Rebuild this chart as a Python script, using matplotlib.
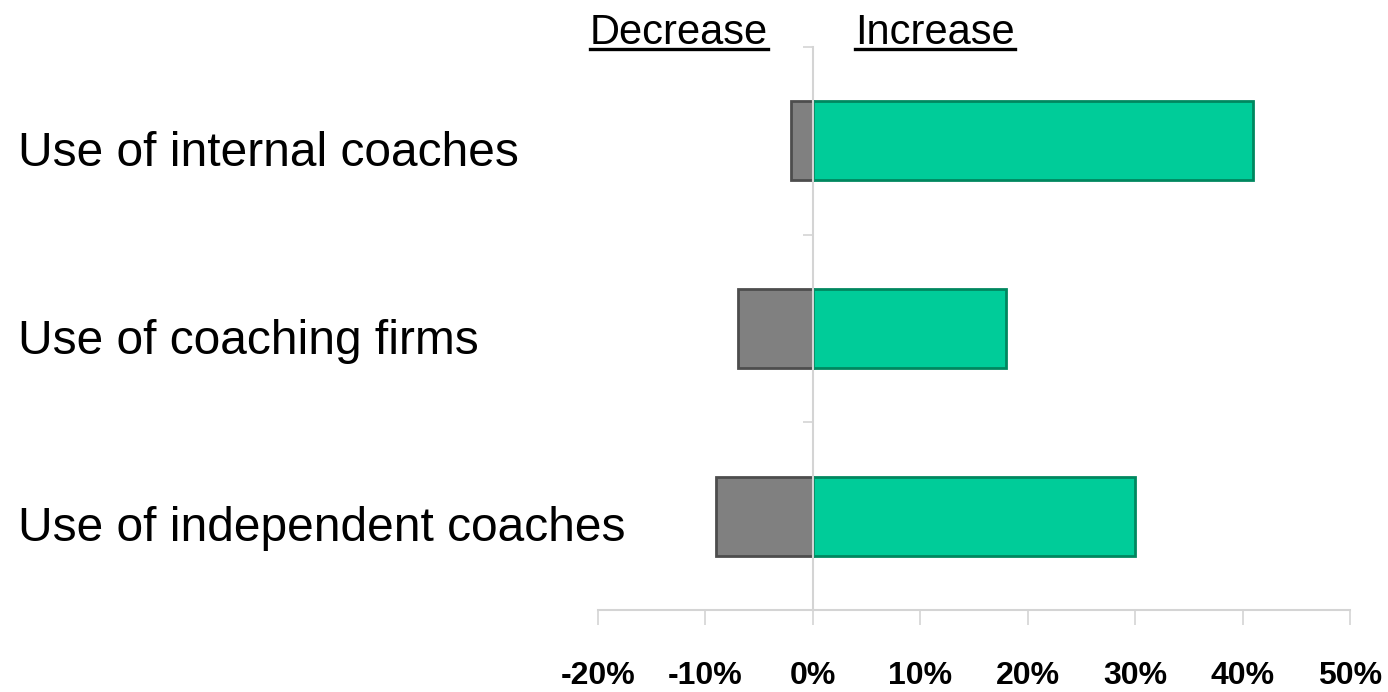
import numpy as np
import matplotlib
matplotlib.use('Agg')
import matplotlib.pyplot as plt
import matplotlib.transforms as mtransforms
from matplotlib.ticker import FuncFormatter

# Share of respondents expecting a decrease / increase
categories = ['Use of internal coaches', 'Use of coaching firms', 'Use of independent coaches']
decrease = [-2, -7, -9]
increase = [41, 18, 30]
xticks = [-20, -10, 0, 10, 20, 30, 40, 50]

green, green_edge = '#00CC99', '#00875F'
grey, grey_edge = '#808080', '#4D4D4D'
axis_grey = '#D4D4D4'
font = ['Liberation Sans', 'DejaVu Sans']

fig = plt.figure(figsize=(13.88, 6.92), dpi=100)
ax = fig.add_axes([0.4308, 0.1185, 0.5418, 0.8136])

y = np.arange(len(categories))
ax.barh(y, decrease, height=0.42, color=grey, edgecolor=grey_edge, linewidth=2, zorder=2)
ax.barh(y, increase, height=0.42, color=green, edgecolor=green_edge, linewidth=2, zorder=2)

ax.set_xlim(xticks[0], xticks[-1])
ax.set_ylim(len(categories) - 0.5, -0.5)

# Axes: light grey x-axis at bottom, vertical axis through zero
for side in ('top', 'right'):
    ax.spines[side].set_visible(False)
ax.spines['left'].set_position(('data', 0))
for side in ('left', 'bottom'):
    ax.spines[side].set_color(axis_grey)
    ax.spines[side].set_linewidth(1.5)
    ax.spines[side].set_zorder(3)

ax.set_xticks(xticks)
ax.xaxis.set_major_formatter(FuncFormatter(lambda v, pos: '%d%%' % v))
ax.tick_params(axis='x', direction='out', length=11, width=1.2, color=axis_grey, pad=26,
               labelsize=23)
for lab in ax.get_xticklabels():
    lab.set_family(font)
    lab.set_fontweight('bold')

ax.set_yticks(np.arange(len(categories) + 1) - 0.5)
ax.set_yticklabels([])
ax.tick_params(axis='y', direction='out', length=7, width=1.2, color=axis_grey)

# Category names, left aligned at the figure edge
trans = mtransforms.blended_transform_factory(fig.transFigure, ax.transData)
for yi, name in zip(y, categories):
    fig.text(0.013, yi + 0.135, name, transform=trans, ha='left', va='baseline',
             fontsize=34.5, family=font)

# Underlined headers above the two halves
head_y = 0.936
heads = [fig.text(0.425, head_y, 'Decrease', ha='left', va='baseline', fontsize=30, family=font),
         fig.text(0.616, head_y, 'Increase', ha='left', va='baseline', fontsize=30, family=font)]
fig.canvas.draw()
renderer = fig.canvas.get_renderer()
for t in heads:
    bb = t.get_window_extent(renderer).transformed(fig.transFigure.inverted())
    fig.add_artist(plt.Line2D([bb.x0, bb.x1], [head_y - 0.007] * 2, color='black',
                              linewidth=2.4, transform=fig.transFigure))

fig.savefig('out.png', dpi=100)
